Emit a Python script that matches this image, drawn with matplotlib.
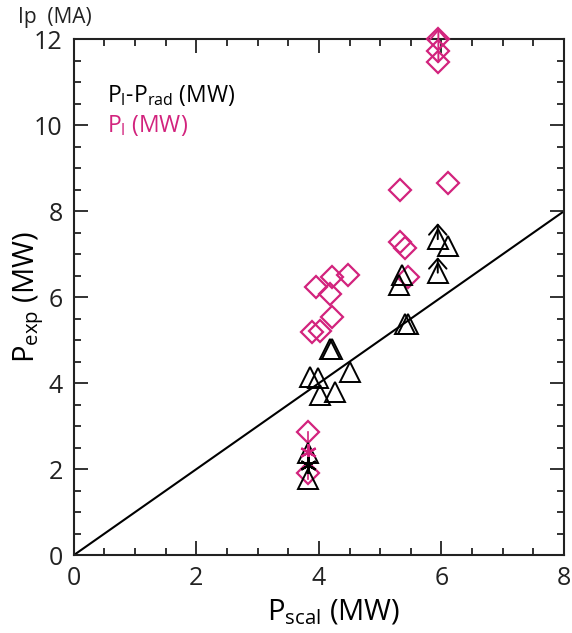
import matplotlib
matplotlib.use('Agg')
import matplotlib.pyplot as plt
from matplotlib.ticker import MultipleLocator

plt.rcParams['font.family'] = ['Open Sans', 'DejaVu Sans']
plt.rcParams['mathtext.default'] = 'regular'

MAG = '#d2237d'

# P_l - P_rad (black triangles)
tri_x = [3.82, 3.82, 3.85, 3.98, 4.01, 4.26, 4.50, 4.18, 4.21, 5.40, 5.45, 5.30, 5.36, 5.94, 6.10, 5.94]
tri_y = [2.37, 1.77, 4.15, 4.12, 3.73, 3.80, 4.27, 4.80, 4.80, 5.38, 5.38, 6.29, 6.52, 6.57, 7.20, 7.35]

# P_l (magenta diamonds)
dia_x = [3.82, 3.82, 3.88, 4.01, 4.22, 4.18, 3.96, 4.21, 4.47, 5.45, 5.32, 5.40, 5.32, 6.10, 5.95, 5.95, 5.95]
dia_y = [2.86, 1.92, 5.19, 5.21, 5.53, 6.07, 6.23, 6.47, 6.51, 6.47, 7.28, 7.14, 8.49, 8.65, 11.47, 11.72, 12.00]

# lower limits: (x, y_from, y_to)
lim_black = [(5.94, 7.35, 7.72), (5.94, 6.57, 6.93)]
lim_mag = [(5.95, 11.47, 12.25)]

# low-power group stars
star_x_mag = [3.83]
star_y_mag = [2.40]
star_x_blk = [3.82]
star_y_blk = [2.10]

# P_exp = P_scal
line_x = [0, 8]
line_y = [0, 8]

fig = plt.figure(figsize=(5.72, 6.33), dpi=100)
ax = fig.add_axes([0.129, 0.123, 0.857, 0.815])

ax.plot(line_x, line_y, color='black', lw=1.5, zorder=1)

ax.plot([3.82, 3.82], [1.77, 2.86], color=MAG, lw=1.2, zorder=2)

ax.plot(dia_x, dia_y, linestyle='none', marker='D', ms=11, mfc='none',
        mec=MAG, mew=1.6, zorder=3, clip_on=False)
ax.plot(tri_x, tri_y, linestyle='none', marker='^', ms=15, mfc='none',
        mec='black', mew=1.4, zorder=4)
ax.plot(star_x_mag, star_y_mag, linestyle='none', marker=(6, 2, 0), ms=12,
        mec=MAG, mew=1.6, zorder=5)
ax.plot(star_x_blk, star_y_blk, linestyle='none', marker=(6, 2, 0), ms=12,
        mec='black', mew=1.6, zorder=5)

arrow_style = '->, head_length=0.4, head_width=0.35'
for x, y0, y1 in lim_black:
    ax.annotate('', xy=(x, y1), xytext=(x, y0),
                arrowprops=dict(arrowstyle=arrow_style, color='black', lw=1.4,
                                mutation_scale=18, shrinkA=0, shrinkB=0))
for x, y0, y1 in lim_mag:
    ax.annotate('', xy=(x, y1), xytext=(x, y0), annotation_clip=False,
                arrowprops=dict(arrowstyle=arrow_style, color=MAG, lw=1.4,
                                mutation_scale=18, shrinkA=0, shrinkB=0))

ax.set_xlim(0, 8)
ax.set_ylim(0, 12)
ax.xaxis.set_major_locator(MultipleLocator(2))
ax.xaxis.set_minor_locator(MultipleLocator(0.5))
ax.yaxis.set_major_locator(MultipleLocator(2))
ax.yaxis.set_minor_locator(MultipleLocator(0.5))
ax.tick_params(which='both', direction='in', top=True, right=True,
               labelsize=18, colors='#222222', pad=8)
ax.tick_params(which='major', length=10, width=1.3)
ax.tick_params(which='minor', length=5, width=1.3)
for s in ax.spines.values():
    s.set_linewidth(1.5)
    s.set_color('#222222')

ax.set_xlabel('P$_{scal}$ (MW)', fontsize=21, va='center')
ax.set_ylabel('P$_{exp}$ (MW)', fontsize=21, va='center')
ax.xaxis.set_label_coords(0.53, -0.111)
ax.yaxis.set_label_coords(-0.092, 0.5)

ax.text(0.55, 10.7, 'P$_{l}$-P$_{rad}$ (MW)', fontsize=16.5, color='black', va='center')
ax.text(0.55, 10.0, 'P$_{l}$ (MW)', fontsize=16.5, color=MAG, va='center')

fig.text(0.031, 0.972, 'Ip  (MA)', fontsize=15, color='#222222', va='center')

fig.savefig('out.png', dpi=100)
